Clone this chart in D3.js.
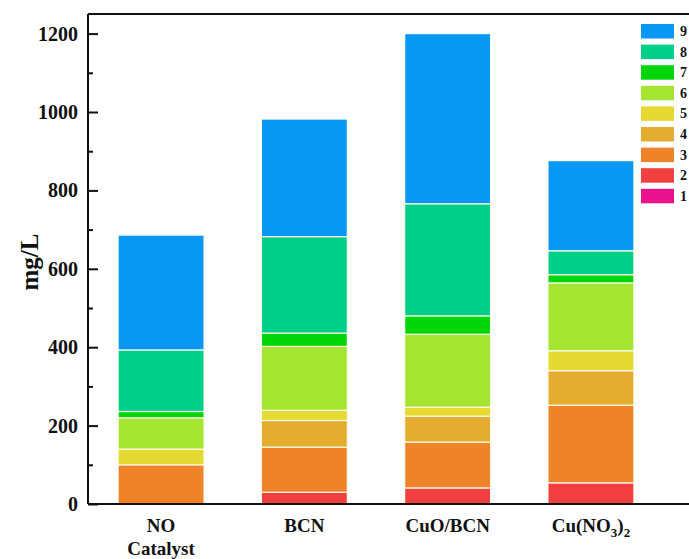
<!DOCTYPE html>
<html>
<head>
<meta charset="utf-8">
<script src="https://d3js.org/d3.v7.min.js"></script>
<style>
  body { margin: 0; background: #fff; }
  svg text { font-family: "Liberation Serif", "Times New Roman", serif; font-weight: bold; fill: #111; }
</style>
</head>
<body>
<div id="chart"></div>
<script>
// data
var categories = ["NO Catalyst", "BCN", "CuO/BCN", "Cu(NO3)2"];
var seriesKeys = ["1", "2", "3", "4", "5", "6", "7", "8", "9"];
var s1 = [0, 0, 0, 0];
var s2 = [0, 30, 41, 54];
var s3 = [100, 115, 117, 198];
var s4 = [0, 68, 66, 88];
var s5 = [40, 26, 23, 51];
var s6 = [80, 163, 186, 173];
var s7 = [16, 34, 47, 21];
var s8 = [157, 246, 286, 61];
var s9 = [293, 300, 434, 230];
var colors = ["#e8128c", "#f23f40", "#ef832a", "#e5ad30", "#e7d934", "#a5e532", "#00d60a", "#00cf89", "#0898f4"];
var yTicks = [0, 200, 400, 600, 800, 1000, 1200];
var yMinor = [100, 300, 500, 700, 900, 1100];

var allSeries = [s1, s2, s3, s4, s5, s6, s7, s8, s9];
var rows = categories.map(function (c, i) {
  var r = { cat: c };
  seriesKeys.forEach(function (k, j) { r[k] = allSeries[j][i]; });
  return r;
});

var W = 689, H = 559;
var svg = d3.select("#chart").append("svg").attr("width", W).attr("height", H);

var y = d3.scaleLinear().domain([0, 1250]).range([504, 14]);
var x = d3.scaleBand().domain(categories).range([88, 664]).paddingInner(0.4).paddingOuter(0.21);
var color = d3.scaleOrdinal().domain(seriesKeys).range(colors);

// stacked bars
var stacked = d3.stack().keys(seriesKeys)(rows);
svg.append("g").selectAll("g").data(stacked).join("g")
  .attr("fill", function (d) { return color(d.key); })
  .selectAll("rect").data(function (d) { return d; }).join("rect")
  .attr("x", function (d) { return x(d.data.cat); })
  .attr("width", x.bandwidth())
  .attr("y", function (d) { return y(d[1]); })
  .attr("height", function (d) { return Math.max(0, y(d[0]) - y(d[1])); })
  .attr("stroke", "#fbfbe8")
  .attr("stroke-width", function (d) { return d[1] > d[0] ? 1.2 : 0; });

// axes frame
svg.append("line").attr("x1", 88).attr("x2", W + 2).attr("y1", y(0)).attr("y2", y(0))
  .attr("stroke", "#111").attr("stroke-width", 2);
svg.append("line").attr("x1", 88).attr("x2", W + 2).attr("y1", 14).attr("y2", 14)
  .attr("stroke", "#111").attr("stroke-width", 2);

var yAxis = svg.append("g").attr("transform", "translate(88,0)")
  .call(d3.axisLeft(y).tickValues(yTicks).tickSize(-10).tickPadding(10).tickFormat(d3.format("d")));
yAxis.select(".domain").attr("stroke", "#111").attr("stroke-width", 2);
yAxis.selectAll(".tick line").attr("stroke", "#111").attr("stroke-width", 2);
yAxis.selectAll("text").style("font-size", "20px").attr("fill", "#111");
yAxis.selectAll(".domain").attr("d", "M0," + y(0) + "V14");

svg.append("g").attr("transform", "translate(88,0)")
  .call(d3.axisLeft(y).tickValues(yMinor).tickSize(-5).tickFormat(""))
  .call(function (g) { g.select(".domain").remove(); })
  .selectAll("line").attr("stroke", "#111").attr("stroke-width", 2);

// y title
svg.append("text").attr("transform", "translate(38," + 262 + ") rotate(-90)")
  .attr("text-anchor", "middle").style("font-size", "25px").text("mg/L");

// x labels
var xl = svg.append("g");
categories.forEach(function (c) {
  var cx = x(c) + x.bandwidth() / 2;
  var t = xl.append("text").attr("x", cx).attr("y", 532).attr("text-anchor", "middle").style("font-size", "19px");
  if (c === "NO Catalyst") {
    t.text("NO");
    xl.append("text").attr("x", cx).attr("y", 555).attr("text-anchor", "middle").style("font-size", "19px").text("Catalyst");
  } else if (c === "Cu(NO3)2") {
    t.append("tspan").text("Cu(NO");
    t.append("tspan").attr("dy", 5).style("font-size", "13px").text("3");
    t.append("tspan").attr("dy", -5).text(")");
    t.append("tspan").attr("dy", 5).style("font-size", "13px").text("2");
  } else {
    t.text(c);
  }
});

// legend
var legend = svg.append("g");
seriesKeys.slice().reverse().forEach(function (k, i) {
  var gy = 24 + i * 20.6;
  legend.append("rect").attr("x", 641).attr("y", gy).attr("width", 33).attr("height", 14.5).attr("fill", color(k));
  legend.append("text").attr("x", 680).attr("y", gy + 12).style("font-size", "14px").text(k);
});
</script>
</body>
</html>
